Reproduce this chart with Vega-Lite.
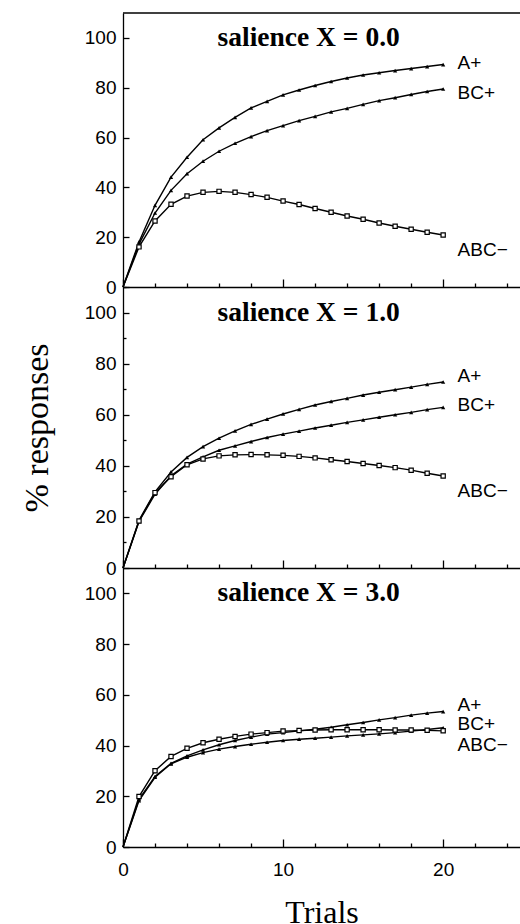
{
  "$schema": "https://vega.github.io/schema/vega-lite/v6.json",
  "padding": {"left": 20, "top": 12, "right": 0, "bottom": 0},
  "background": "white",
  "bounds": "flush",
  "config": {
    "view": {"stroke": null},
    "concat": {"spacing": 0},
    "axis": {"ticks": true, "tickColor": "black", "tickWidth": 1.3, "grid": false, "domainColor": "black", "labelColor": "black", "titleColor": "black", "labelFont": "Liberation Sans", "labelFontSize": 19, "titleFont": "Liberation Serif", "titleFontSize": 32, "titleFontWeight": "normal", "labelOverlap": false, "labelFlush": false, "domainWidth": 1.3},
    "axisX": {"values": [0,1,2,3,4,5,6,7,8,9,10,11,12,13,14,15,16,17,18,19,20], "labelExpr": "datum.value % 5 === 0 ? datum.label : ''", "labelOverlap": false, "tickSize": {"condition": {"test": "datum.value % 5 === 0", "value": -8}, "value": -4}},
    "axisY": {"values": [0,5,10,15,20,25,30,35,40,45,50,55,60,65,70,75,80,85,90,95,100,105], "labelExpr": "datum.value % 20 === 0 ? datum.label : ''", "labelOverlap": false, "tickSize": {"condition": {"test": "datum.value % 20 === 0", "value": -6}, "value": -3}, "labelPadding": 13}
  },
  "datasets": {
    "curves": [
      {"p": "0.0", "s": "A+", "t": 0, "v": 0}, {"p": "0.0", "s": "A+", "t": 1, "v": 18.1}, {"p": "0.0", "s": "A+", "t": 2, "v": 32.8}, {"p": "0.0", "s": "A+", "t": 3, "v": 44.1}, {"p": "0.0", "s": "A+", "t": 4, "v": 52.1}, {"p": "0.0", "s": "A+", "t": 5, "v": 59.1}, {"p": "0.0", "s": "A+", "t": 6, "v": 63.9}, {"p": "0.0", "s": "A+", "t": 7, "v": 68.1}, {"p": "0.0", "s": "A+", "t": 8, "v": 71.9}, {"p": "0.0", "s": "A+", "t": 9, "v": 74.5}, {"p": "0.0", "s": "A+", "t": 10, "v": 77.1}, {"p": "0.0", "s": "A+", "t": 11, "v": 79.1}, {"p": "0.0", "s": "A+", "t": 12, "v": 80.9}, {"p": "0.0", "s": "A+", "t": 13, "v": 82.5}, {"p": "0.0", "s": "A+", "t": 14, "v": 83.9}, {"p": "0.0", "s": "A+", "t": 15, "v": 85.1}, {"p": "0.0", "s": "A+", "t": 16, "v": 86.0}, {"p": "0.0", "s": "A+", "t": 17, "v": 86.9}, {"p": "0.0", "s": "A+", "t": 18, "v": 87.7}, {"p": "0.0", "s": "A+", "t": 19, "v": 88.5}, {"p": "0.0", "s": "A+", "t": 20, "v": 89.3},
      {"p": "0.0", "s": "BC+", "t": 0, "v": 0}, {"p": "0.0", "s": "BC+", "t": 1, "v": 17.2}, {"p": "0.0", "s": "BC+", "t": 2, "v": 29.7}, {"p": "0.0", "s": "BC+", "t": 3, "v": 38.8}, {"p": "0.0", "s": "BC+", "t": 4, "v": 45.5}, {"p": "0.0", "s": "BC+", "t": 5, "v": 50.5}, {"p": "0.0", "s": "BC+", "t": 6, "v": 54.5}, {"p": "0.0", "s": "BC+", "t": 7, "v": 57.7}, {"p": "0.0", "s": "BC+", "t": 8, "v": 60.4}, {"p": "0.0", "s": "BC+", "t": 9, "v": 62.8}, {"p": "0.0", "s": "BC+", "t": 10, "v": 64.8}, {"p": "0.0", "s": "BC+", "t": 11, "v": 66.8}, {"p": "0.0", "s": "BC+", "t": 12, "v": 68.5}, {"p": "0.0", "s": "BC+", "t": 13, "v": 70.3}, {"p": "0.0", "s": "BC+", "t": 14, "v": 71.7}, {"p": "0.0", "s": "BC+", "t": 15, "v": 73.3}, {"p": "0.0", "s": "BC+", "t": 16, "v": 74.8}, {"p": "0.0", "s": "BC+", "t": 17, "v": 76.0}, {"p": "0.0", "s": "BC+", "t": 18, "v": 77.3}, {"p": "0.0", "s": "BC+", "t": 19, "v": 78.5}, {"p": "0.0", "s": "BC+", "t": 20, "v": 79.5},
      {"p": "0.0", "s": "ABC−", "t": 0, "v": 0}, {"p": "0.0", "s": "ABC−", "t": 1, "v": 16.1}, {"p": "0.0", "s": "ABC−", "t": 2, "v": 26.5}, {"p": "0.0", "s": "ABC−", "t": 3, "v": 33.2}, {"p": "0.0", "s": "ABC−", "t": 4, "v": 36.5}, {"p": "0.0", "s": "ABC−", "t": 5, "v": 38.0}, {"p": "0.0", "s": "ABC−", "t": 6, "v": 38.4}, {"p": "0.0", "s": "ABC−", "t": 7, "v": 38.0}, {"p": "0.0", "s": "ABC−", "t": 8, "v": 37.1}, {"p": "0.0", "s": "ABC−", "t": 9, "v": 36.0}, {"p": "0.0", "s": "ABC−", "t": 10, "v": 34.5}, {"p": "0.0", "s": "ABC−", "t": 11, "v": 33.1}, {"p": "0.0", "s": "ABC−", "t": 12, "v": 31.5}, {"p": "0.0", "s": "ABC−", "t": 13, "v": 30.0}, {"p": "0.0", "s": "ABC−", "t": 14, "v": 28.5}, {"p": "0.0", "s": "ABC−", "t": 15, "v": 27.2}, {"p": "0.0", "s": "ABC−", "t": 16, "v": 25.7}, {"p": "0.0", "s": "ABC−", "t": 17, "v": 24.4}, {"p": "0.0", "s": "ABC−", "t": 18, "v": 23.2}, {"p": "0.0", "s": "ABC−", "t": 19, "v": 22.0}, {"p": "0.0", "s": "ABC−", "t": 20, "v": 20.9},
      {"p": "1.0", "s": "A+", "t": 0, "v": 0}, {"p": "1.0", "s": "A+", "t": 1, "v": 18.7}, {"p": "1.0", "s": "A+", "t": 2, "v": 29.8}, {"p": "1.0", "s": "A+", "t": 3, "v": 37.6}, {"p": "1.0", "s": "A+", "t": 4, "v": 43.3}, {"p": "1.0", "s": "A+", "t": 5, "v": 47.5}, {"p": "1.0", "s": "A+", "t": 6, "v": 50.8}, {"p": "1.0", "s": "A+", "t": 7, "v": 53.7}, {"p": "1.0", "s": "A+", "t": 8, "v": 56.2}, {"p": "1.0", "s": "A+", "t": 9, "v": 58.3}, {"p": "1.0", "s": "A+", "t": 10, "v": 60.3}, {"p": "1.0", "s": "A+", "t": 11, "v": 62.1}, {"p": "1.0", "s": "A+", "t": 12, "v": 63.8}, {"p": "1.0", "s": "A+", "t": 13, "v": 65.2}, {"p": "1.0", "s": "A+", "t": 14, "v": 66.4}, {"p": "1.0", "s": "A+", "t": 15, "v": 67.7}, {"p": "1.0", "s": "A+", "t": 16, "v": 68.8}, {"p": "1.0", "s": "A+", "t": 17, "v": 69.8}, {"p": "1.0", "s": "A+", "t": 18, "v": 70.8}, {"p": "1.0", "s": "A+", "t": 19, "v": 71.9}, {"p": "1.0", "s": "A+", "t": 20, "v": 72.8},
      {"p": "1.0", "s": "BC+", "t": 0, "v": 0}, {"p": "1.0", "s": "BC+", "t": 1, "v": 18.2}, {"p": "1.0", "s": "BC+", "t": 2, "v": 28.9}, {"p": "1.0", "s": "BC+", "t": 3, "v": 36.1}, {"p": "1.0", "s": "BC+", "t": 4, "v": 40.7}, {"p": "1.0", "s": "BC+", "t": 5, "v": 43.5}, {"p": "1.0", "s": "BC+", "t": 6, "v": 46.1}, {"p": "1.0", "s": "BC+", "t": 7, "v": 47.8}, {"p": "1.0", "s": "BC+", "t": 8, "v": 49.5}, {"p": "1.0", "s": "BC+", "t": 9, "v": 51.1}, {"p": "1.0", "s": "BC+", "t": 10, "v": 52.4}, {"p": "1.0", "s": "BC+", "t": 11, "v": 53.6}, {"p": "1.0", "s": "BC+", "t": 12, "v": 54.8}, {"p": "1.0", "s": "BC+", "t": 13, "v": 55.9}, {"p": "1.0", "s": "BC+", "t": 14, "v": 57.0}, {"p": "1.0", "s": "BC+", "t": 15, "v": 58.0}, {"p": "1.0", "s": "BC+", "t": 16, "v": 59.0}, {"p": "1.0", "s": "BC+", "t": 17, "v": 60.0}, {"p": "1.0", "s": "BC+", "t": 18, "v": 60.9}, {"p": "1.0", "s": "BC+", "t": 19, "v": 62.0}, {"p": "1.0", "s": "BC+", "t": 20, "v": 62.9},
      {"p": "1.0", "s": "ABC−", "t": 0, "v": 0}, {"p": "1.0", "s": "ABC−", "t": 1, "v": 18.4}, {"p": "1.0", "s": "ABC−", "t": 2, "v": 29.5}, {"p": "1.0", "s": "ABC−", "t": 3, "v": 35.7}, {"p": "1.0", "s": "ABC−", "t": 4, "v": 40.4}, {"p": "1.0", "s": "ABC−", "t": 5, "v": 42.7}, {"p": "1.0", "s": "ABC−", "t": 6, "v": 43.9}, {"p": "1.0", "s": "ABC−", "t": 7, "v": 44.3}, {"p": "1.0", "s": "ABC−", "t": 8, "v": 44.4}, {"p": "1.0", "s": "ABC−", "t": 9, "v": 44.3}, {"p": "1.0", "s": "ABC−", "t": 10, "v": 44.1}, {"p": "1.0", "s": "ABC−", "t": 11, "v": 43.7}, {"p": "1.0", "s": "ABC−", "t": 12, "v": 43.1}, {"p": "1.0", "s": "ABC−", "t": 13, "v": 42.4}, {"p": "1.0", "s": "ABC−", "t": 14, "v": 41.7}, {"p": "1.0", "s": "ABC−", "t": 15, "v": 40.9}, {"p": "1.0", "s": "ABC−", "t": 16, "v": 40.1}, {"p": "1.0", "s": "ABC−", "t": 17, "v": 39.3}, {"p": "1.0", "s": "ABC−", "t": 18, "v": 38.3}, {"p": "1.0", "s": "ABC−", "t": 19, "v": 37.1}, {"p": "1.0", "s": "ABC−", "t": 20, "v": 36.0},
      {"p": "3.0", "s": "A+", "t": 0, "v": 0}, {"p": "3.0", "s": "A+", "t": 1, "v": 18.8}, {"p": "3.0", "s": "A+", "t": 2, "v": 27.8}, {"p": "3.0", "s": "A+", "t": 3, "v": 33.0}, {"p": "3.0", "s": "A+", "t": 4, "v": 35.9}, {"p": "3.0", "s": "A+", "t": 5, "v": 38.3}, {"p": "3.0", "s": "A+", "t": 6, "v": 40.3}, {"p": "3.0", "s": "A+", "t": 7, "v": 42.0}, {"p": "3.0", "s": "A+", "t": 8, "v": 43.3}, {"p": "3.0", "s": "A+", "t": 9, "v": 44.5}, {"p": "3.0", "s": "A+", "t": 10, "v": 45.1}, {"p": "3.0", "s": "A+", "t": 11, "v": 45.8}, {"p": "3.0", "s": "A+", "t": 12, "v": 46.4}, {"p": "3.0", "s": "A+", "t": 13, "v": 47.2}, {"p": "3.0", "s": "A+", "t": 14, "v": 48.2}, {"p": "3.0", "s": "A+", "t": 15, "v": 49.1}, {"p": "3.0", "s": "A+", "t": 16, "v": 50.1}, {"p": "3.0", "s": "A+", "t": 17, "v": 51.0}, {"p": "3.0", "s": "A+", "t": 18, "v": 52.0}, {"p": "3.0", "s": "A+", "t": 19, "v": 52.8}, {"p": "3.0", "s": "A+", "t": 20, "v": 53.4},
      {"p": "3.0", "s": "BC+", "t": 0, "v": 0}, {"p": "3.0", "s": "BC+", "t": 1, "v": 18.3}, {"p": "3.0", "s": "BC+", "t": 2, "v": 27.5}, {"p": "3.0", "s": "BC+", "t": 3, "v": 32.8}, {"p": "3.0", "s": "BC+", "t": 4, "v": 35.4}, {"p": "3.0", "s": "BC+", "t": 5, "v": 37.2}, {"p": "3.0", "s": "BC+", "t": 6, "v": 38.6}, {"p": "3.0", "s": "BC+", "t": 7, "v": 39.6}, {"p": "3.0", "s": "BC+", "t": 8, "v": 40.5}, {"p": "3.0", "s": "BC+", "t": 9, "v": 41.3}, {"p": "3.0", "s": "BC+", "t": 10, "v": 42.0}, {"p": "3.0", "s": "BC+", "t": 11, "v": 42.5}, {"p": "3.0", "s": "BC+", "t": 12, "v": 42.9}, {"p": "3.0", "s": "BC+", "t": 13, "v": 43.3}, {"p": "3.0", "s": "BC+", "t": 14, "v": 43.8}, {"p": "3.0", "s": "BC+", "t": 15, "v": 44.2}, {"p": "3.0", "s": "BC+", "t": 16, "v": 44.6}, {"p": "3.0", "s": "BC+", "t": 17, "v": 45.1}, {"p": "3.0", "s": "BC+", "t": 18, "v": 45.7}, {"p": "3.0", "s": "BC+", "t": 19, "v": 46.3}, {"p": "3.0", "s": "BC+", "t": 20, "v": 47.0},
      {"p": "3.0", "s": "ABC−", "t": 0, "v": 0}, {"p": "3.0", "s": "ABC−", "t": 1, "v": 19.9}, {"p": "3.0", "s": "ABC−", "t": 2, "v": 30.1}, {"p": "3.0", "s": "ABC−", "t": 3, "v": 35.7}, {"p": "3.0", "s": "ABC−", "t": 4, "v": 38.9}, {"p": "3.0", "s": "ABC−", "t": 5, "v": 41.1}, {"p": "3.0", "s": "ABC−", "t": 6, "v": 42.5}, {"p": "3.0", "s": "ABC−", "t": 7, "v": 43.6}, {"p": "3.0", "s": "ABC−", "t": 8, "v": 44.5}, {"p": "3.0", "s": "ABC−", "t": 9, "v": 45.1}, {"p": "3.0", "s": "ABC−", "t": 10, "v": 45.7}, {"p": "3.0", "s": "ABC−", "t": 11, "v": 45.9}, {"p": "3.0", "s": "ABC−", "t": 12, "v": 46.1}, {"p": "3.0", "s": "ABC−", "t": 13, "v": 46.2}, {"p": "3.0", "s": "ABC−", "t": 14, "v": 46.2}, {"p": "3.0", "s": "ABC−", "t": 15, "v": 46.2}, {"p": "3.0", "s": "ABC−", "t": 16, "v": 46.2}, {"p": "3.0", "s": "ABC−", "t": 17, "v": 46.1}, {"p": "3.0", "s": "ABC−", "t": 18, "v": 46.1}, {"p": "3.0", "s": "ABC−", "t": 19, "v": 46.0}, {"p": "3.0", "s": "ABC−", "t": 20, "v": 45.8}
    ],
    "labels": [
      {"p": "0.0", "t": 20.9, "v": 90, "text": "A+"}, {"p": "0.0", "t": 20.9, "v": 78, "text": "BC+"}, {"p": "0.0", "t": 20.9, "v": 14.8, "text": "ABC−"},
      {"p": "1.0", "t": 20.9, "v": 75, "text": "A+"}, {"p": "1.0", "t": 20.9, "v": 64, "text": "BC+"}, {"p": "1.0", "t": 20.9, "v": 30.2, "text": "ABC−"},
      {"p": "3.0", "t": 20.9, "v": 56, "text": "A+"}, {"p": "3.0", "t": 20.9, "v": 48.4, "text": "BC+"}, {"p": "3.0", "t": 20.9, "v": 40.4, "text": "ABC−"}
    ],
    "titles": [
      {"p": "0.0", "t": 11.6, "v": 100, "text": "salience X = 0.0"},
      {"p": "1.0", "t": 11.6, "v": 100, "text": "salience X = 1.0"},
      {"p": "3.0", "t": 11.6, "v": 100, "text": "salience X = 3.0"}
    ],
    "frame": [{"v": 110}]
  },
  "vconcat": [
    {
      "width": 397, "height": 274,
      "encoding": {
        "x": {"field": "t", "type": "quantitative", "scale": {"domain": [0, 24.8], "nice": false}, "axis": {"labels": false, "title": null}},
        "y": {"field": "v", "type": "quantitative", "scale": {"domain": [0, 110], "nice": false}, "axis": {"title": null, "labelOverlap": false}}
      },
      "layer": [
        {"data": {"name": "frame"}, "mark": {"type": "rule", "color": "black", "strokeWidth": 1.3}, "encoding": {"x": null}},
        {"data": {"name": "curves"}, "transform": [{"filter": "datum.p === '0.0'"}], "mark": {"type": "line", "color": "black", "strokeWidth": 1.4}, "encoding": {"detail": {"field": "s"}}},
        {"data": {"name": "curves"}, "transform": [{"filter": "datum.p === '0.0' && datum.t > 0 && datum.s !== 'ABC−'"}], "mark": {"type": "point", "shape": "triangle-up", "filled": true, "color": "black", "size": 18, "opacity": 1}},
        {"data": {"name": "curves"}, "transform": [{"filter": "datum.p === '0.0' && datum.t > 0 && datum.s === 'ABC−'"}], "mark": {"type": "point", "shape": "square", "filled": true, "fill": "white", "stroke": "black", "strokeWidth": 1.2, "size": 18, "opacity": 1}},
        {"data": {"name": "labels"}, "transform": [{"filter": "datum.p === '0.0'"}], "mark": {"type": "text", "align": "left", "baseline": "middle", "font": "Liberation Sans", "fontSize": 19, "color": "black"}, "encoding": {"text": {"field": "text"}}},
        {"data": {"name": "titles"}, "transform": [{"filter": "datum.p === '0.0'"}], "mark": {"type": "text", "align": "center", "baseline": "middle", "font": "Liberation Serif", "fontWeight": "bold", "fontSize": 27.5, "color": "black"}, "encoding": {"text": {"field": "text"}}}
      ]
    },
    {
      "width": 397, "height": 281,
      "encoding": {
        "x": {"field": "t", "type": "quantitative", "scale": {"domain": [0, 24.8], "nice": false}, "axis": {"labels": false, "title": null}},
        "y": {"field": "v", "type": "quantitative", "scale": {"domain": [0, 110], "nice": false}, "axis": {"title": "% responses", "titlePadding": 30, "titleFontSize": 34, "labelOverlap": false}}
      },
      "layer": [
        {"data": {"name": "curves"}, "transform": [{"filter": "datum.p === '1.0'"}], "mark": {"type": "line", "color": "black", "strokeWidth": 1.4}, "encoding": {"detail": {"field": "s"}}},
        {"data": {"name": "curves"}, "transform": [{"filter": "datum.p === '1.0' && datum.t > 0 && datum.s !== 'ABC−'"}], "mark": {"type": "point", "shape": "triangle-up", "filled": true, "color": "black", "size": 18, "opacity": 1}},
        {"data": {"name": "curves"}, "transform": [{"filter": "datum.p === '1.0' && datum.t > 0 && datum.s === 'ABC−'"}], "mark": {"type": "point", "shape": "square", "filled": true, "fill": "white", "stroke": "black", "strokeWidth": 1.2, "size": 18, "opacity": 1}},
        {"data": {"name": "labels"}, "transform": [{"filter": "datum.p === '1.0'"}], "mark": {"type": "text", "align": "left", "baseline": "middle", "font": "Liberation Sans", "fontSize": 19, "color": "black"}, "encoding": {"text": {"field": "text"}}},
        {"data": {"name": "titles"}, "transform": [{"filter": "datum.p === '1.0'"}], "mark": {"type": "text", "align": "center", "baseline": "middle", "font": "Liberation Serif", "fontWeight": "bold", "fontSize": 27.5, "color": "black"}, "encoding": {"text": {"field": "text"}}}
      ]
    },
    {
      "width": 397, "height": 279,
      "encoding": {
        "x": {"field": "t", "type": "quantitative", "scale": {"domain": [0, 24.8], "nice": false}, "axis": {"labelPadding": 21, "labelOverlap": false, "title": "Trials", "titlePadding": 14}},
        "y": {"field": "v", "type": "quantitative", "scale": {"domain": [0, 110], "nice": false}, "axis": {"title": null, "labelOverlap": false}}
      },
      "layer": [
        {"data": {"name": "curves"}, "transform": [{"filter": "datum.p === '3.0'"}], "mark": {"type": "line", "color": "black", "strokeWidth": 1.4}, "encoding": {"detail": {"field": "s"}}},
        {"data": {"name": "curves"}, "transform": [{"filter": "datum.p === '3.0' && datum.t > 0 && datum.s !== 'ABC−'"}], "mark": {"type": "point", "shape": "triangle-up", "filled": true, "color": "black", "size": 18, "opacity": 1}},
        {"data": {"name": "curves"}, "transform": [{"filter": "datum.p === '3.0' && datum.t > 0 && datum.s === 'ABC−'"}], "mark": {"type": "point", "shape": "square", "filled": true, "fill": "white", "stroke": "black", "strokeWidth": 1.2, "size": 18, "opacity": 1}},
        {"data": {"name": "labels"}, "transform": [{"filter": "datum.p === '3.0'"}], "mark": {"type": "text", "align": "left", "baseline": "middle", "font": "Liberation Sans", "fontSize": 19, "color": "black"}, "encoding": {"text": {"field": "text"}}},
        {"data": {"name": "titles"}, "transform": [{"filter": "datum.p === '3.0'"}], "mark": {"type": "text", "align": "center", "baseline": "middle", "font": "Liberation Serif", "fontWeight": "bold", "fontSize": 27.5, "color": "black"}, "encoding": {"text": {"field": "text"}}}
      ]
    }
  ]
}
